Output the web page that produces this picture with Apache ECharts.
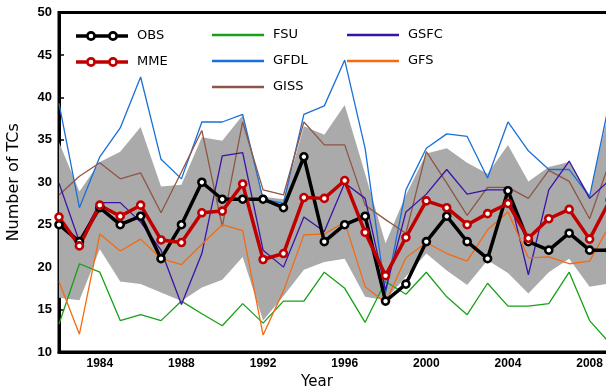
<!DOCTYPE html>
<html>
<head>
<meta charset="utf-8">
<script src="https://cdn.jsdelivr.net/npm/echarts@6.0.0/dist/echarts.min.js"></script>
<style>
  html, body { margin: 0; padding: 0; background: #fff; }
  #ec { width: 606px; height: 389px; }
</style>
</head>
<body>
<div id="ec"></div>
<script>
var years = [1982, 1983, 1984, 1985, 1986, 1987, 1988, 1989, 1990, 1991, 1992, 1993, 1994, 1995,
  1996, 1997, 1998, 1999, 2000, 2001, 2002, 2003, 2004, 2005, 2006, 2007, 2008, 2009];

var obs = [25, 23, 27, 25, 26, 21, 25, 30, 28, 28, 28, 27, 33, 23, 25, 26, 16, 18, 23, 26, 23, 21, 29, 23, 22, 24, 22, 22];
var mme = [25.9, 22.5, 27.3, 26.0, 27.3, 23.2, 22.9, 26.4, 26.6, 29.8, 20.9, 21.6, 28.2, 28.1,
  30.2, 24.1, 19.0, 23.5, 27.8, 27.0, 25.0, 26.3, 27.5, 23.4, 25.7, 26.8, 23.3, 27.9];
var fsu = [13.3, 20.4, 19.4, 13.7, 14.4, 13.7, 16.0, 14.5, 13.1, 15.7, 13.4, 16.0, 16.0, 19.4,
  17.5, 13.5, 18.3, 16.8, 19.4, 16.5, 14.4, 18.1, 15.4, 15.4, 15.7, 19.4, 13.7, 11.0];
var gfdl = [39.3, 27.0, 33.0, 36.4, 42.4, 32.7, 30.4, 37.1, 37.1, 38.0, 28.0, 27.5, 38.0, 39.0,
  44.4, 34.0, 16.9, 29.1, 34.0, 35.7, 35.4, 30.5, 37.1, 33.7, 31.5, 31.5, 28.3, 39.8];
var giss = [28.5, 30.7, 32.3, 30.4, 31.1, 26.4, 31.2, 36.1, 24.8, 37.1, 29.1, 28.5, 37.1, 34.4,
  34.4, 27.3, 25.6, 24.0, 33.6, 29.9, 26.1, 29.4, 29.4, 28.1, 31.4, 30.1, 25.7, 32.5];
var gsfc = [29.9, 23.0, 27.6, 27.6, 25.3, 22.0, 15.6, 21.6, 33.1, 33.5, 22.0, 20.0, 25.9, 24.2,
  29.9, 28.1, 17.3, 26.5, 28.6, 31.5, 28.6, 29.1, 29.1, 19.1, 29.1, 32.5, 28.1, 30.3];
var gfs = [18.3, 12.1, 23.9, 21.9, 23.3, 21.0, 20.3, 22.7, 25.0, 24.3, 12.0, 17.2, 23.8, 23.9,
  25.3, 17.7, 15.8, 21.1, 22.9, 21.6, 20.7, 24.4, 26.5, 21.1, 21.2, 20.4, 20.7, 25.0];

// spread of the members (grey band)
var bandLow = [16.4, 16.1, 22.1, 18.3, 18.0, 17.0, 16.0, 17.6, 18.5, 21.2, 13.7, 16.6, 19.7, 20.6,
  21.0, 16.5, 16.1, 18.9, 21.6, 19.6, 17.9, 20.8, 19.3, 16.9, 19.4, 21.0, 17.7, 18.1];
var bandHigh = [34.7, 28.9, 32.4, 33.6, 36.5, 29.5, 29.7, 35.3, 34.9, 37.9, 28.3, 28.0, 36.6, 35.6,
  39.1, 31.0, 22.8, 28.5, 33.4, 34.0, 32.3, 31.0, 34.4, 30.1, 31.8, 32.4, 28.5, 39.0];

var yTicks = { min: 10, max: 50, step: 5 };

var bandSpan = bandHigh.map(function (v, i) { return +(v - bandLow[i]).toFixed(2); });

// legend icon: thick line with two open circles
var ringIcon = "path://M0 3.3H10.2V6.7H0Z M19.8 3.3H32.2V6.7H19.8Z M41.8 3.3H52V6.7H41.8Z " +
  "M10 5A5 5 0 1 1 20 5A5 5 0 1 1 10 5Z M12.7 5A2.3 2.3 0 1 0 17.3 5A2.3 2.3 0 1 0 12.7 5Z " +
  "M32 5A5 5 0 1 1 42 5A5 5 0 1 1 32 5Z M34.7 5A2.3 2.3 0 1 0 39.3 5A2.3 2.3 0 1 0 34.7 5Z";

var legendText = { fontFamily: "DejaVu Sans", fontSize: 13, color: "#000", lineHeight: 16, padding: [0, 0, 0, 4] };

function thinLine(name, data, color) {
  return {
    name: name,
    type: "line",
    data: data,
    symbol: "none",
    lineStyle: { color: color, width: 1.3 },
    itemStyle: { color: color },
  };
}

function markedLine(name, data, color) {
  return {
    name: name,
    type: "line",
    data: data,
    symbol: "circle",
    symbolSize: 7,
    lineStyle: { color: color, width: 3.5 },
    itemStyle: { color: "#fff", borderColor: color, borderWidth: 2.6 },
  };
}

var myChart = echarts.init(document.getElementById("ec"), null, { renderer: "canvas" });
myChart.setOption({
  animation: false,
  backgroundColor: "#fff",
  grid: {
    left: 59,
    right: -4,
    top: 12.5,
    bottom: 37,
    show: true,
    borderColor: "#000",
    borderWidth: 3,
    backgroundColor: "transparent",
    outerBoundsMode: "none",
  },
  legend: [
    {
      orient: "vertical",
      left: 76,
      top: 28,
      padding: 0,
      itemGap: 10,
      itemWidth: 52,
      itemHeight: 10,
      textStyle: legendText,
      data: [
        { name: "OBS", icon: ringIcon, itemStyle: { color: "#000", borderWidth: 0 } },
        { name: "MME", icon: ringIcon, itemStyle: { color: "#c00000", borderWidth: 0 } },
      ],
    },
    {
      orient: "vertical",
      left: 212,
      top: 27,
      padding: 0,
      itemGap: 10,
      itemWidth: 52,
      itemHeight: 2.5,
      icon: "rect",
      textStyle: legendText,
      data: ["FSU", "GFDL", "GISS"],
    },
    {
      orient: "vertical",
      left: 347,
      top: 27,
      padding: 0,
      itemGap: 10,
      itemWidth: 52,
      itemHeight: 2.5,
      icon: "rect",
      textStyle: legendText,
      data: ["GSFC", "GFS"],
    },
  ],
  xAxis: {
    type: "category",
    data: years.map(String),
    boundaryGap: false,
    axisLine: { lineStyle: { color: "#000", width: 3 } },
    axisTick: { show: false },
    splitLine: { show: false },
    axisLabel: {
      interval: function (i, v) { return Number(v) % 4 === 0; },
      margin: 6,
      color: "#000",
      fontFamily: "Liberation Sans",
      fontWeight: "bold",
      fontSize: 12,
    },
    name: "Year",
    nameLocation: "middle",
    nameGap: 22,
    nameTextStyle: { fontFamily: "DejaVu Sans", fontSize: 15, color: "#000", padding: [0, 35, 0, 0] },
  },
  yAxis: {
    type: "value",
    min: yTicks.min,
    max: yTicks.max,
    interval: yTicks.step,
    axisLine: { show: true, lineStyle: { color: "#000", width: 3 } },
    axisTick: { show: true, inside: true, length: 5, lineStyle: { color: "#000", width: 1.5 } },
    splitLine: { show: false },
    axisLabel: {
      margin: 7,
      color: "#000",
      fontFamily: "Liberation Sans",
      fontWeight: "bold",
      fontSize: 13,
    },
    name: "Number of TCs",
    nameLocation: "middle",
    nameGap: 37,
    nameTextStyle: { fontFamily: "DejaVu Sans", fontSize: 16, color: "#000" },
  },
  series: [
    {
      name: "bandLow",
      type: "line",
      data: bandLow,
      stack: "band",
      symbol: "none",
      silent: true,
      lineStyle: { opacity: 0 },
    },
    {
      name: "bandSpan",
      type: "line",
      data: bandSpan,
      stack: "band",
      symbol: "none",
      silent: true,
      lineStyle: { opacity: 0 },
      areaStyle: { color: "#aaaaaa", opacity: 1 },
    },
    thinLine("FSU", fsu, "#17a017"),
    thinLine("GFDL", gfdl, "#1a6fd8"),
    thinLine("GISS", giss, "#8e5646"),
    thinLine("GSFC", gsfc, "#3a12a8"),
    thinLine("GFS", gfs, "#f56a10"),
    markedLine("OBS", obs, "#000"),
    markedLine("MME", mme, "#c00000"),
  ],
});
</script>
</body>
</html>
